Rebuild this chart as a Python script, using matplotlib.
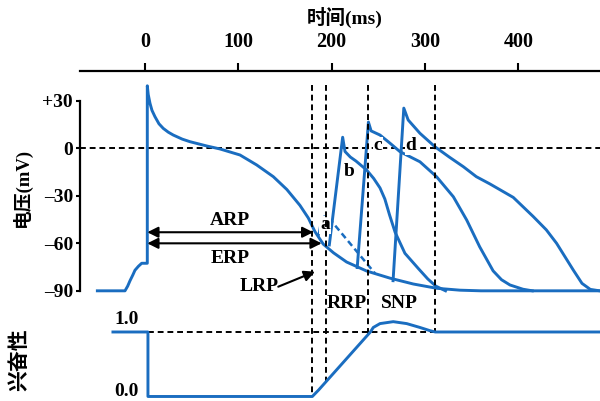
import numpy as np
import matplotlib.pyplot as plt

# membrane potential of the basic action potential (ms, mV)
t_main = [-51, -21.4, -18.5, -16, -13, -10.7, -7, -3.5, 2.5, 2.5, 3.5, 5.4, 7.5, 10.7, 15,
          19.6, 25, 30.3, 40, 48.2, 66.1, 80.4, 101.8, 119.7, 137.5, 152, 166, 175, 182,
          191, 202, 216, 237.5, 262.5, 287.5, 312.5, 337.5, 360, 487.5]
v_main = [-90, -90, -87, -83.6, -80, -77, -74.5, -72.6, -72.6, 39.5, 34, 28.4, 24, 20, 15.5,
          12.6, 10.2, 8.4, 5.8, 4.2, 1.5, -0.4, -4.2, -10.5, -17.9, -26, -36, -44, -52.5,
          -60.5, -66, -71.8, -77.5, -82, -85.7, -88.4, -89.6, -90, -90]

# local response "a"
t_a = [186, 188.5, 192, 196]
v_a = [-55, -46, -43, -44]
t_a_decay = [197, 246.5]
v_a_decay = [-44, -79]

# responses to stimuli b, c, d
t_b = [197.5, 211.8, 214.3, 220, 226, 237.5, 245, 251.8, 257, 262, 268, 278.5, 293,
       303, 311.5, 322]
v_b = [-61, 7, -2, -5.5, -8, -13.7, -19, -25, -32, -42, -53, -66.3, -76, -82.5, -87, -90]
t_c = [227.4, 239.4, 242.3, 251.8, 262, 273.2, 294.6, 312.5, 330.4, 344.7, 358.6, 373,
       382, 391, 405, 415]
v_c = [-75.3, 16.6, 11, 8.4, 3.5, -2.1, -8.5, -18, -30.6, -45.3, -62.2, -77.4, -83, -86.3,
       -89, -90]
t_d = [265.8, 277.3, 282, 294.6, 310.7, 326, 341.1, 355, 369.6, 394.6, 416, 430, 441, 450,
       459, 468.2, 477.1, 487]
v_d = [-83.6, 25.4, 17.9, 9.5, 1, -5.5, -11.6, -17.9, -22.5, -31, -43.1, -51.5, -60, -68.5,
       -77, -85.3, -89.1, -90]

# excitability
t_exc = [-34.3, 3.2, 3.2, 179.3, 186, 241.5, 244.6, 251.8, 266, 280.4, 294.6, 305.4, 311, 487.5]
e_exc = [1, 1, 0, 0, 0.1, 1.0, 1.07, 1.13, 1.16, 1.13, 1.07, 1.02, 1.0, 1.0]

# period boundaries (ms)
bounds = [179, 194, 239, 311]

blue = '#1a6dc0'
serif = ['Liberation Serif', 'Noto Sans CJK SC']
tfont = dict(family=serif, weight='bold', size=14)

fig = plt.figure(figsize=(6, 4.01), dpi=100)
ax = fig.add_axes([80 / 600, 0, 520 / 600, 1])
ax2 = fig.add_axes([80 / 600, 0, 520 / 600, 1], sharex=ax)
ax2.patch.set_alpha(0)
for s in ax2.spines.values():
    s.set_visible(False)
ax2.set_yticks([])
ax2.tick_params(axis='x', which='both', top=False, bottom=False,
                labeltop=False, labelbottom=False)

ax.set_xlim(-69.6, 487.5)
ax.set_ylim(-159.6, 93.7)
ax2.set_ylim(-0.07, 6.147)

# top time axis
ax.spines['bottom'].set_visible(False)
ax.spines['right'].set_visible(False)
ax.spines['top'].set_position(('data', 48.8))
ax.spines['top'].set_linewidth(1.6)
ax.xaxis.set_ticks_position('top')
ax.set_xticks([0, 100, 200, 300, 400])
ax.tick_params(axis='x', direction='out', length=5.5, width=1.5, pad=8)
for lb in ax.get_xticklabels():
    lb.set_fontproperties(dict(family=serif, weight='bold', size=14.5))

# voltage axis
ax.spines['left'].set_bounds(-90, 30)
ax.spines['left'].set_linewidth(1.6)
ax.set_yticks([30, 0, -30, -60, -90])
ax.set_yticklabels(['+30', '0', '–30', '–60', '–90'])
ax.tick_params(axis='y', direction='out', length=3, width=1.5, pad=2)
for lb in ax.get_yticklabels():
    lb.set_fontproperties(dict(family=serif, weight='bold', size=14))

fig.text(345 / 600, 1 - 17 / 401, '时间(ms)', ha='center', va='center', **tfont)
fig.text(22 / 600, 1 - 187 / 401, '电压(mV)', ha='center', va='center', rotation=90,
         family=serif, weight='bold', size=13.5)
fig.text(20 / 600, 1 - 360 / 401, '兴奋性', ha='center', va='center', rotation=90,
         family=serif, weight='bold', size=15)

dash = dict(color='black', lw=1.4, dashes=(3, 2))
ax.axhline(0, **dash)

# voltage traces
lw = 2.1
ax.plot(t_main, v_main, color=blue, lw=lw, solid_joinstyle='round')
ax.plot(t_a, v_a, color=blue, lw=1.6)
ax.plot(t_a_decay, v_a_decay, color=blue, lw=1.8, dashes=(2.5, 1.5))
for t, v in [(t_b, v_b), (t_c, v_c), (t_d, v_d)]:
    ax.plot(t, v, color=blue, lw=lw, solid_joinstyle='round')

# excitability trace and guides
ax2.plot(t_exc, e_exc, color=blue, lw=lw, solid_joinstyle='round')
ax2.plot([3.2, bounds[3]], [1, 1], zorder=1, **dash)
top_e = 4.83
for b in bounds:
    low = np.interp(b, t_exc[3:], e_exc[3:])
    ax2.plot([b, b], [top_e, low], zorder=1, **dash)

# refractory period arrows
arr = dict(arrowstyle='<|-|>', color='black', lw=1.5, mutation_scale=16, shrinkA=0, shrinkB=0)
ax.annotate('', xy=(180.3, -53), xytext=(2.5, -53), arrowprops=arr)
ax.annotate('', xy=(189.3, -60), xytext=(2.5, -60), arrowprops=arr)
ax.annotate('', xy=(182.1, -77.9), xytext=(142.8, -87.4),
            arrowprops=dict(arrowstyle='-|>', color='black', lw=1.5, mutation_scale=16,
                            shrinkA=0, shrinkB=0))

ax.text(91, -45.3, 'ARP', ha='center', va='center', **tfont)
ax.text(91, -69.5, 'ERP', ha='center', va='center', **tfont)
ax.text(122, -87.4, 'LRP', ha='center', va='center', **tfont)
ax.text(216, -97.7, 'RRP', ha='center', va='center', **tfont)
ax.text(273, -97.7, 'SNP', ha='center', va='center', **tfont)

lbox = dict(facecolor='white', edgecolor='none', pad=0.5)
for s, x, y in [('a', 193, -48.4), ('b', 218.6, -14.8), ('c', 249.6, 1.5), ('d', 285, 1.5)]:
    ax.text(x, y, s, ha='center', va='center', bbox=lbox, **tfont)

ax2.text(-19.6, 1.19, '1.0', ha='center', va='center', **tfont)
ax2.text(-19.6, 0.074, '0.0', ha='center', va='center', **tfont)

fig.savefig('out.png', dpi=100)
